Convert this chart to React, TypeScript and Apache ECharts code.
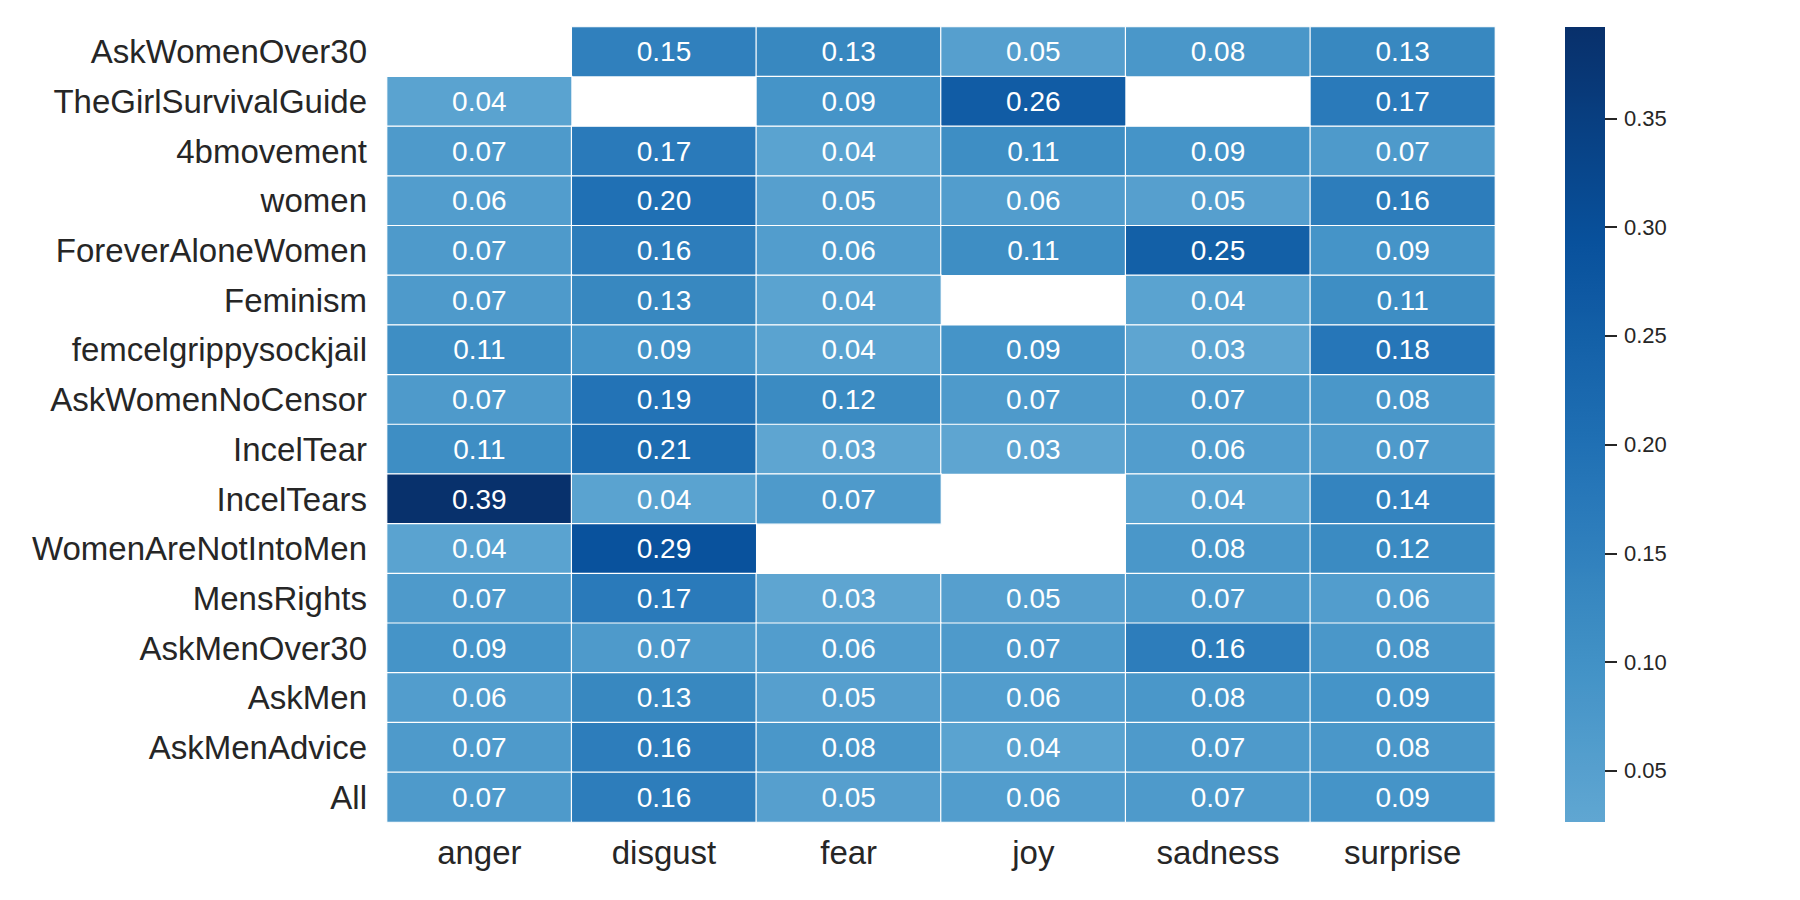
import React, { useEffect, useRef } from "react";
import * as echarts from "echarts";

const emotions = ["anger", "disgust", "fear", "joy", "sadness", "surprise"];
const subreddits = [
  "AskWomenOver30",
  "TheGirlSurvivalGuide",
  "4bmovement",
  "women",
  "ForeverAloneWomen",
  "Feminism",
  "femcelgrippysockjail",
  "AskWomenNoCensor",
  "IncelTear",
  "IncelTears",
  "WomenAreNotIntoMen",
  "MensRights",
  "AskMenOver30",
  "AskMen",
  "AskMenAdvice",
  "All",
];
// rows follow subreddits, columns follow emotions; null = no data
const values: (number | null)[][] = [
  [null, 0.15, 0.13, 0.05, 0.08, 0.13],
  [0.04, null, 0.09, 0.26, null, 0.17],
  [0.07, 0.17, 0.04, 0.11, 0.09, 0.07],
  [0.06, 0.2, 0.05, 0.06, 0.05, 0.16],
  [0.07, 0.16, 0.06, 0.11, 0.25, 0.09],
  [0.07, 0.13, 0.04, null, 0.04, 0.11],
  [0.11, 0.09, 0.04, 0.09, 0.03, 0.18],
  [0.07, 0.19, 0.12, 0.07, 0.07, 0.08],
  [0.11, 0.21, 0.03, 0.03, 0.06, 0.07],
  [0.39, 0.04, 0.07, null, 0.04, 0.14],
  [0.04, 0.29, null, null, 0.08, 0.12],
  [0.07, 0.17, 0.03, 0.05, 0.07, 0.06],
  [0.09, 0.07, 0.06, 0.07, 0.16, 0.08],
  [0.06, 0.13, 0.05, 0.06, 0.08, 0.09],
  [0.07, 0.16, 0.08, 0.04, 0.07, 0.08],
  [0.07, 0.16, 0.05, 0.06, 0.07, 0.09],
];
const colorbarTicks = [0.05, 0.1, 0.15, 0.2, 0.25, 0.3, 0.35];
const VMIN = 0.0265;
const VMAX = 0.392;

const BLUES = ["#f7fbff", "#deebf7", "#c6dbef", "#9ecae1", "#6baed6", "#4292c6", "#2171b5", "#08519c", "#08306b"];
function hexToRgb(h: string) {
  return [parseInt(h.slice(1, 3), 16), parseInt(h.slice(3, 5), 16), parseInt(h.slice(5, 7), 16)];
}
function blues(t: number) {
  const p = Math.max(0, Math.min(1, t)) * (BLUES.length - 1);
  const i = Math.min(BLUES.length - 2, Math.floor(p));
  const f = p - i;
  const a = hexToRgb(BLUES[i]);
  const b = hexToRgb(BLUES[i + 1]);
  const c = a.map((v, k) => Math.round(v + (b[k] - v) * f));
  return `rgb(${c[0]},${c[1]},${c[2]})`;
}
// diverging-centred (center = 0) mapping as in seaborn
function cmap(v: number) {
  return blues((v + VMAX) / (2 * VMAX));
}
const N_SAMPLES = 60;
const sampleColors: string[] = [];
for (let i = 0; i < N_SAMPLES; i++) {
  const v = VMIN + ((VMAX - VMIN) * i) / (N_SAMPLES - 1);
  sampleColors.push(cmap(v));
}

const FONT = "Liberation Sans, Arial, Helvetica, sans-serif";
const TEXT = "#262626";

export default function App() {
  const ref = useRef<HTMLDivElement>(null);
  useEffect(() => {
    if (!ref.current) return;
    const chart = echarts.init(ref.current, undefined, { renderer: "svg" });
    const heatData: any[] = [];
    values.forEach((row, r) =>
      row.forEach((v, c) => {
        if (v !== null) heatData.push([c, r, v]);
      })
    );
    const gradient = new echarts.graphic.LinearGradient(
      0,
      1,
      0,
      0,
      sampleColors.map((col, i) => ({ offset: i / (N_SAMPLES - 1), color: col }))
    );
    chart.setOption({
      animation: false,
      backgroundColor: "#ffffff",
      grid: [
        { left: 387, top: 27, width: 1108, height: 795 },
        { left: 1565, top: 27, width: 40, height: 795 },
      ],
      xAxis: [
        {
          type: "category",
          gridIndex: 0,
          data: emotions,
          axisLine: { show: false },
          axisTick: { show: false },
          splitLine: { show: false },
          axisLabel: { fontSize: 33, color: TEXT, fontFamily: FONT, margin: 14 },
        },
        {
          type: "category",
          gridIndex: 1,
          data: [""],
          show: false,
        },
      ],
      yAxis: [
        {
          type: "category",
          gridIndex: 0,
          data: subreddits,
          inverse: true,
          axisLine: { show: false },
          axisTick: { show: false },
          splitLine: { show: false },
          axisLabel: { fontSize: 33, color: TEXT, fontFamily: FONT, margin: 20 },
        },
        {
          type: "value",
          gridIndex: 1,
          position: "right",
          min: VMIN,
          max: VMAX,
          axisLine: { show: false },
          splitLine: { show: false },
          axisTick: {
            show: true,
            length: 12,
            customValues: colorbarTicks,
            lineStyle: { color: TEXT, width: 2 },
          },
          axisLabel: {
            customValues: colorbarTicks,
            fontSize: 22,
            color: TEXT,
            fontFamily: FONT,
            margin: 19,
            formatter: (v: number) => v.toFixed(2),
          },
        },
      ],
      visualMap: {
        show: false,
        type: "continuous",
        seriesIndex: 0,
        min: VMIN,
        max: VMAX,
        dimension: 2,
        inRange: { color: sampleColors },
      },
      series: [
        {
          type: "heatmap",
          xAxisIndex: 0,
          yAxisIndex: 0,
          data: heatData,
          itemStyle: { borderColor: "#ffffff", borderWidth: 1.2 },
          label: {
            show: true,
            color: "#ffffff",
            fontSize: 28,
            fontFamily: FONT,
            formatter: (p: any) => Number(p.value[2]).toFixed(2),
          },
          emphasis: { disabled: true },
        },
        {
          type: "custom",
          xAxisIndex: 1,
          yAxisIndex: 1,
          data: [[0, VMIN, VMAX]],
          encode: { x: 0, y: [1, 2] },
          silent: true,
          renderItem: (params: any, api: any) => {
            const lo = api.coord([0, api.value(1)]);
            const hi = api.coord([0, api.value(2)]);
            const cs = params.coordSys;
            return {
              type: "rect",
              shape: { x: cs.x, y: hi[1], width: cs.width, height: lo[1] - hi[1] },
              style: { fill: gradient },
            };
          },
        },
      ],
    });
    return () => chart.dispose();
  }, []);
  return (
    <div
      ref={ref}
      style={{ position: "fixed", left: 0, top: 0, width: 1800, height: 900, background: "#fff" }}
    />
  );
}
